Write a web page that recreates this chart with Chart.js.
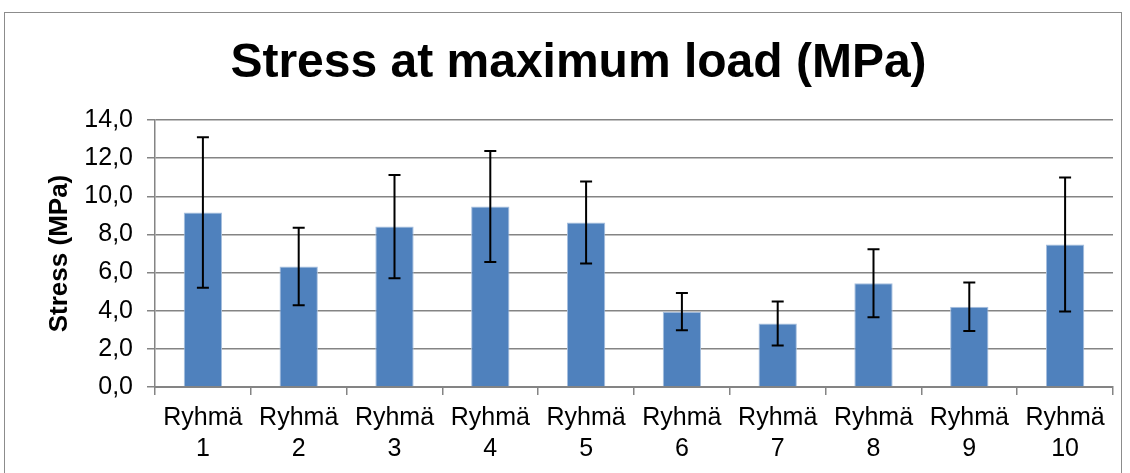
<!DOCTYPE html>
<html>
<head>
<meta charset="utf-8">
<script src="https://cdn.jsdelivr.net/npm/chart.js@4"></script>
<style>
    html, body { margin: 0; padding: 0; background: #fff; overflow: hidden; }
    #wrap { position: relative; width: 1130px; height: 473px; }
    #frame { position: absolute; left: 4px; top: 12px; width: 1118px; height: 480px; border: 1.5px solid #8c8c8c; box-sizing: border-box; }
    #chart { position: absolute; left: 0; top: 0; }
</style>
</head>
<body>
<div id="wrap">
    <div id="frame"></div>
    <canvas id="chart" width="1130" height="473"></canvas>
</div>
<script>
// Group names (two-line tick labels)
const groupWords = ['Ryhmä', 'Ryhmä', 'Ryhmä', 'Ryhmä', 'Ryhmä', 'Ryhmä', 'Ryhmä', 'Ryhmä', 'Ryhmä', 'Ryhmä'];
const groupNumbers = ['1', '2', '3', '4', '5', '6', '7', '8', '9', '10'];

// Mean stress and standard deviation (MPa)
const stressMeans = [9.15, 6.32, 8.41, 9.46, 8.63, 3.95, 3.33, 5.44, 4.21, 7.47];
const stressErrors = [3.95, 2.03, 2.71, 2.91, 2.15, 0.98, 1.15, 1.78, 1.27, 3.51];

const yMin = 0;
const yMax = 14;
const yStep = 2;

const fontFamily = "'Liberation Sans', Arial, sans-serif";
const gridGrey = '#848484';

// draws the error bars on top of the bars, using the y scale
const errorBarPlugin = {
    id: 'errorBars',
    afterDatasetsDraw: function(chart) {
        const ctx = chart.ctx;
        const yScale = chart.scales.y;
        const meta = chart.getDatasetMeta(0);
        ctx.save();
        ctx.strokeStyle = '#000';
        ctx.lineWidth = 2;
        meta.data.forEach((bar, i) => {
            const x = bar.x;
            const yTop = yScale.getPixelForValue(stressMeans[i] + stressErrors[i]);
            const yBot = yScale.getPixelForValue(stressMeans[i] - stressErrors[i]);
            ctx.beginPath();
            ctx.moveTo(x, yTop);
            ctx.lineTo(x, yBot);
            ctx.moveTo(x - 6, yTop);
            ctx.lineTo(x + 6, yTop);
            ctx.moveTo(x - 6, yBot);
            ctx.lineTo(x + 6, yBot);
            ctx.stroke();
        });
        ctx.restore();
    }
};

const labels = groupWords.map((w, i) => [w, groupNumbers[i]]);

new Chart(document.getElementById('chart'), {
    type: 'bar',
    data: {
        labels: labels,
        datasets: [{
            label: 'Stress',
            data: stressMeans,
            backgroundColor: '#4F81BD',
            borderColor: '#A7BFDE',
            borderWidth: 1,
            categoryPercentage: 1.0,
            barPercentage: 0.4
        }]
    },
    options: {
        responsive: false,
        animation: false,
        devicePixelRatio: 1,
        layout: { padding: { left: 44, right: 17, top: 0, bottom: 0 } },
        plugins: {
            legend: { display: false },
            tooltip: { enabled: false },
            title: {
                display: true,
                text: 'Stress at maximum load (MPa)',
                color: '#000',
                font: { family: fontFamily, size: 48, weight: 'bold' },
                padding: { top: 35, bottom: 27.4 }
            }
        },
        scales: {
            x: {
                grid: {
                    display: true,
                    drawOnChartArea: false,
                    offset: true,
                    color: gridGrey,
                    lineWidth: 1.5,
                    tickLength: 8
                },
                border: { display: true, color: gridGrey, width: 2 },
                ticks: {
                    color: '#000',
                    font: { family: fontFamily, size: 25, lineHeight: 1.25 },
                    padding: 7,
                    maxRotation: 0,
                    autoSkip: false
                },
                afterFit: function(scale) { scale.height = 86; }
            },
            y: {
                min: yMin,
                max: yMax,
                ticks: {
                    stepSize: yStep,
                    color: '#000',
                    font: { family: fontFamily, size: 25 },
                    padding: 14,
                    callback: function(v) { return v.toFixed(1).replace('.', ','); }
                },
                grid: { color: gridGrey, lineWidth: 1.5, tickLength: 8 },
                border: { display: true, color: gridGrey, width: 1.5 },
                title: {
                    display: true,
                    text: 'Stress (MPa)',
                    color: '#000',
                    font: { family: fontFamily, size: 26, weight: 'bold' },
                    padding: 0
                },
                afterFit: function(scale) { scale.width = 111; }
            }
        }
    },
    plugins: [errorBarPlugin]
});
</script>
</body>
</html>
